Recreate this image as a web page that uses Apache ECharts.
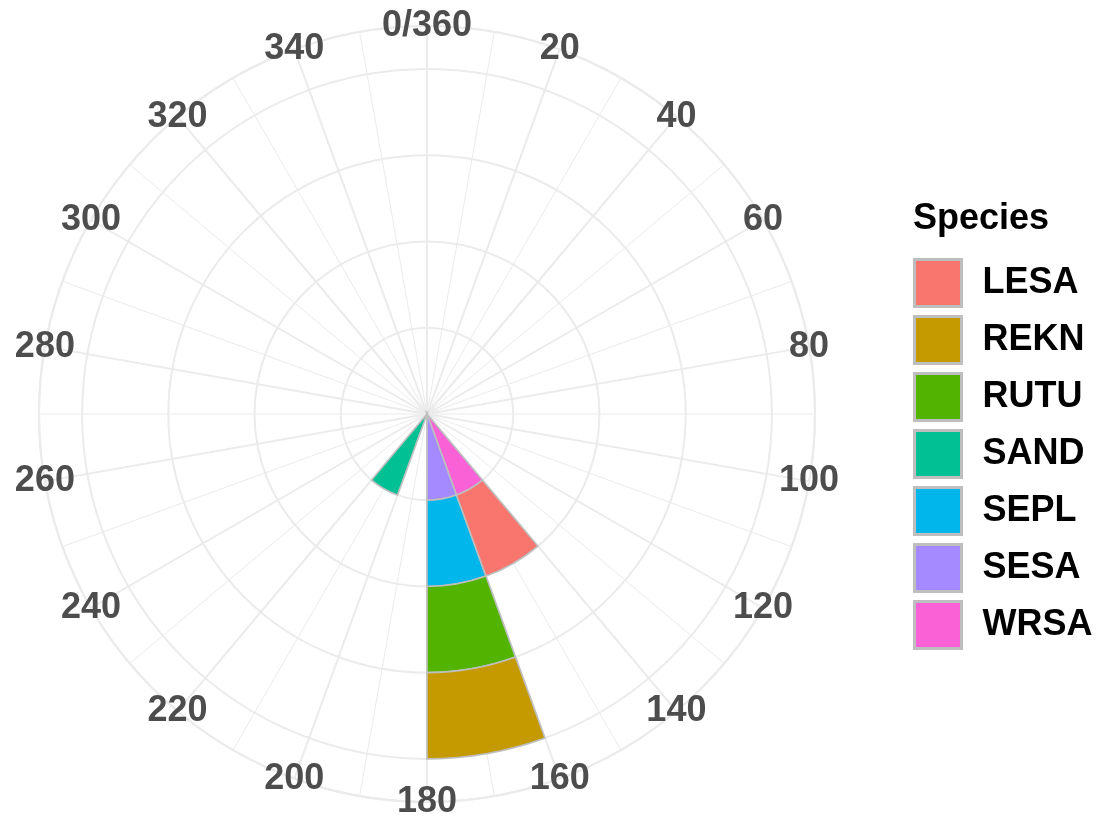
<!DOCTYPE html>
<html><head><meta charset="utf-8">
<script src="https://cdn.jsdelivr.net/npm/echarts@6/dist/echarts.min.js"></script>
<style>html,body{margin:0;padding:0;background:#fff}#c{width:1106px;height:825px}</style>
</head><body><div id="c"></div>
<script>
// Direction bins (degrees, 20° wide)
const directionBins = ['0-20','20-40','40-60','60-80','80-100','100-120','120-140','140-160','160-180',
  '180-200','200-220','220-240','240-260','260-280','280-300','300-320','320-340','340-360'];
// Species (legend order) and ggplot hue colours
const speciesNames = ['LESA','REKN','RUTU','SAND','SEPL','SESA','WRSA'];
const speciesColors = ['#F8766D','#C49A00','#53B400','#00C094','#00B6EB','#A58AFF','#FB61D7'];
// Counts per direction bin
const LESA = [0,0,0,0,0,0,0,1,0,0,0,0,0,0,0,0,0,0];
const REKN = [0,0,0,0,0,0,0,0,1,0,0,0,0,0,0,0,0,0];
const RUTU = [0,0,0,0,0,0,0,0,1,0,0,0,0,0,0,0,0,0];
const SAND = [0,0,0,0,0,0,0,0,0,0,1,0,0,0,0,0,0,0];
const SEPL = [0,0,0,0,0,0,0,0,1,0,0,0,0,0,0,0,0,0];
const SESA = [0,0,0,0,0,0,0,0,1,0,0,0,0,0,0,0,0,0];
const WRSA = [0,0,0,0,0,0,0,1,0,0,0,0,0,0,0,0,0,0];
// Angle tick labels
const tickAngles = [0,20,40,60,80,100,120,140,160,180,200,220,240,260,280,300,320,340];
const tickLabels = ['0/360','20','40','60','80','100','120','140','160','180','200','220','240','260','280','300','320','340'];

const valuesBySpecies = {LESA, REKN, RUTU, SAND, SEPL, SESA, WRSA};
const rMax = 4.5;
const FONT = '"Liberation Sans", Arial, sans-serif';
const GRID = '#EBEBEB';
const CENTER = [427, 414];
const RADIUS = 388;

// stacking: first declared is innermost -> reverse of legend order
const stackOrder = speciesNames.slice().reverse();
const barSeries = stackOrder.map(name => ({
  name: name,
  type: 'bar',
  coordinateSystem: 'polar',
  polarIndex: 1,
  stack: 'all',
  barWidth: '100%',
  barCategoryGap: '0%',
  silent: true,
  itemStyle: {
    color: speciesColors[speciesNames.indexOf(name)],
    borderColor: '#BEBEBE',
    borderWidth: 1.6
  },
  data: valuesBySpecies[name].map(v => v === 0 ? '-' : v)
}));

const labelSeries = {
  type: 'scatter',
  coordinateSystem: 'polar',
  polarIndex: 0,
  symbolSize: 0,
  silent: true,
  z: 10,
  itemStyle: {opacity: 1},
  label: {
    show: true,
    position: 'inside',
    formatter: p => tickLabels[p.dataIndex],
    fontFamily: FONT,
    fontSize: 36,
    fontWeight: 'bold',
    color: '#4D4D4D',
    opacity: 1
  },
  data: tickAngles.map(a => [rMax, a])
};

const chart = echarts.init(document.getElementById('c'), null, {renderer: 'canvas'});
chart.setOption({
  animation: false,
  backgroundColor: '#ffffff',
  title: {
    text: 'Species',
    left: 908,
    top: 196,
    textStyle: {fontFamily: FONT, fontSize: 36, fontWeight: 'bold', color: '#000'}
  },
  legend: {
    orient: 'vertical',
    left: 908,
    top: 253,
    data: speciesNames,
    icon: 'rect',
    itemWidth: 47,
    itemHeight: 47,
    itemGap: 7,
    itemStyle: {borderColor: '#BEBEBE', borderWidth: 3},
    textStyle: {fontFamily: FONT, fontSize: 36, fontWeight: 'bold', color: '#000', lineHeight: 40, padding: [0, 0, 0, 16]},
    selectedMode: false
  },
  polar: [
    {center: CENTER, radius: RADIUS},
    {center: CENTER, radius: RADIUS}
  ],
  angleAxis: [
    {
      polarIndex: 0,
      type: 'value',
      min: 0, max: 360, interval: 20,
      startAngle: 90, clockwise: true,
      axisLine: {show: true, lineStyle: {color: GRID, width: 2}},
      axisTick: {show: false},
      axisLabel: {show: false},
      splitLine: {show: true, lineStyle: {color: GRID, width: 2}},
      minorTick: {show: false, splitNumber: 2},
      minorSplitLine: {show: true, lineStyle: {color: GRID, width: 1}}
    },
    {
      polarIndex: 1,
      type: 'category',
      data: directionBins,
      startAngle: 90, clockwise: true,
      axisLine: {show: false}, axisTick: {show: false}, axisLabel: {show: false},
      splitLine: {show: false}
    }
  ],
  radiusAxis: [
    {
      polarIndex: 0,
      type: 'value', min: 0, max: rMax, interval: 1,
      axisLine: {show: false}, axisTick: {show: false}, axisLabel: {show: false},
      splitLine: {show: true, lineStyle: {color: GRID, width: 2}}
    },
    {
      polarIndex: 1,
      type: 'value', min: 0, max: rMax, interval: 1,
      axisLine: {show: false}, axisTick: {show: false}, axisLabel: {show: false},
      splitLine: {show: false}
    }
  ],
  series: barSeries.concat([labelSeries])
});
</script></body></html>
